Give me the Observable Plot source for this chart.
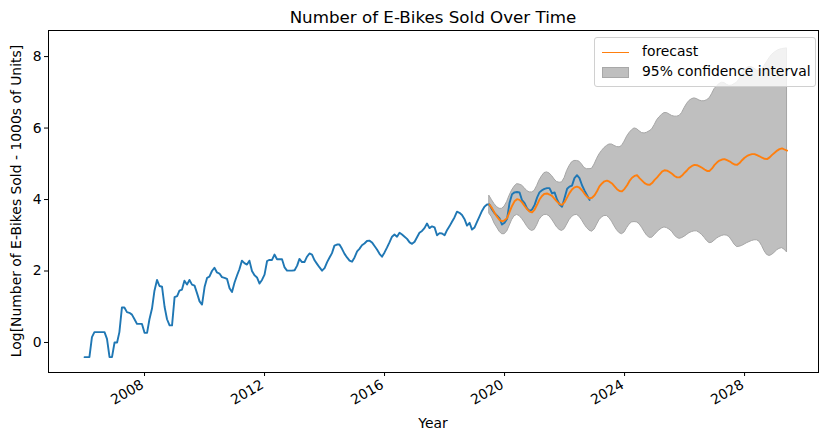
<!DOCTYPE html>
<html><head><meta charset="utf-8">
<script src="https://cdn.jsdelivr.net/npm/d3@7"></script>
<script src="https://cdn.jsdelivr.net/npm/@observablehq/plot@0.6"></script>
<style>
body{margin:0;background:#fff;font-family:"DejaVu Sans",sans-serif;color:#000}
#wrap{position:relative;width:833px;height:441px;overflow:hidden}
#wrap svg{position:absolute;left:0;top:0}
#title{position:absolute;left:48px;width:770px;top:7px;text-align:center;font-size:16.7px;line-height:20px}
#xlabel{position:absolute;left:48px;width:770px;top:414px;text-align:center;font-size:13.9px;line-height:18px}
#ylabel{position:absolute;left:16px;top:201px;font-size:13.9px;line-height:16px;white-space:nowrap;transform:translate(-50%,-50%) rotate(-90deg)}
#legend{position:absolute;left:594px;top:37px;width:222px;height:50px;box-sizing:border-box;border:1px solid #d0d0d0;border-radius:3px;background:rgba(255,255,255,0.8);font-size:13.9px}
.row{position:absolute;left:7px;height:18px;line-height:18px;white-space:nowrap}
.sw{display:inline-block;width:27px;vertical-align:middle;margin-right:13px}
</style></head><body>
<div id="wrap"></div>
<script>
// Observed series: log of monthly E-bike sales, starting January 2006
const obsStart = [2006, 0];
const obsValues = [
-0.41,-0.41,-0.41,0.15,0.29,0.29,0.29,0.29,0.29,0.10,-0.41,-0.41,
0.00,0.00,0.29,0.98,0.98,0.85,0.83,0.78,0.65,0.52,0.52,0.52,
0.27,0.27,0.65,0.95,1.45,1.75,1.58,1.56,1.00,0.65,0.48,0.48,
1.27,1.30,1.45,1.48,1.73,1.62,1.75,1.62,1.59,1.38,1.15,1.06,
1.55,1.81,1.84,2.00,2.09,1.96,1.93,1.83,1.81,1.78,1.52,1.41,
1.68,1.88,2.05,2.29,2.22,2.18,2.29,2.00,1.88,1.82,1.65,1.75,
1.90,2.28,2.31,2.31,2.46,2.33,2.33,2.33,2.10,2.01,2.01,2.01,
2.02,2.15,2.34,2.25,2.25,2.40,2.49,2.46,2.30,2.20,2.10,2.01,
2.08,2.25,2.37,2.50,2.71,2.74,2.74,2.62,2.48,2.38,2.29,2.26,
2.38,2.55,2.62,2.72,2.77,2.84,2.85,2.80,2.70,2.60,2.48,2.40,
2.52,2.66,2.80,2.96,3.02,2.96,3.07,3.02,2.96,2.90,2.80,2.76,
2.82,2.95,3.07,3.12,3.20,3.33,3.20,3.25,3.22,3.00,3.06,3.05,
3.00,3.15,3.25,3.38,3.50,3.66,3.63,3.57,3.45,3.27,3.35,3.16,
3.22,3.38,3.52,3.68,3.80,3.86,3.86,3.72,3.62,3.55,3.47,3.30,
3.35,3.46,3.90,4.15,4.20,4.21,4.20,3.98,3.90,3.75,3.68,3.72,
3.85,4.06,4.20,4.26,4.30,4.32,4.32,4.17,4.20,4.00,3.86,3.80,
4.05,4.30,4.36,4.39,4.60,4.68,4.60,4.40,4.25,4.12,3.99
];
// Forecast, starting July 2019
const fcStart = [2019, 6];
const fcMean = [
3.86,3.76,3.63,3.52,3.43,3.39,
3.42,3.48,3.65,3.82,3.95,4.01,3.99,3.92,3.82,3.73,3.66,3.64,
3.72,3.86,4.00,4.10,4.16,4.17,4.14,4.10,4.02,3.94,3.87,3.85,
3.93,4.06,4.18,4.28,4.34,4.36,4.33,4.26,4.16,4.08,4.03,4.05,
4.12,4.24,4.37,4.45,4.51,4.53,4.50,4.45,4.37,4.29,4.24,4.23,
4.30,4.40,4.52,4.61,4.66,4.68,4.60,4.53,4.46,4.42,4.41,4.46,
4.55,4.62,4.70,4.78,4.82,4.81,4.77,4.72,4.66,4.62,4.62,4.67,
4.75,4.82,4.89,4.94,4.97,4.96,4.93,4.89,4.84,4.80,4.80,4.87,
4.97,5.04,5.09,5.12,5.13,5.10,5.07,5.02,4.98,4.97,5.02,5.10,
5.17,5.22,5.25,5.27,5.27,5.24,5.21,5.17,5.14,5.13,5.18,5.25,
5.31,5.37,5.41,5.43,5.40,5.37
];
const fcUpper = [
4.10,3.98,3.87,3.79,3.74,3.74,
3.80,3.93,4.10,4.25,4.36,4.43,4.42,4.39,4.32,4.24,4.20,4.20,
4.24,4.38,4.53,4.65,4.74,4.76,4.73,4.66,4.56,4.49,4.47,4.48,
4.60,4.80,4.93,5.04,5.08,5.08,5.06,4.98,4.88,4.85,4.85,4.86,
4.98,5.14,5.26,5.36,5.44,5.50,5.54,5.54,5.50,5.47,5.46,5.50,
5.62,5.76,5.86,5.94,5.99,5.97,5.91,5.86,5.85,5.87,5.91,5.96,
6.08,6.22,6.30,6.37,6.42,6.42,6.38,6.34,6.32,6.32,6.34,6.42,
6.56,6.68,6.76,6.81,6.83,6.81,6.77,6.75,6.75,6.78,6.83,6.95,
7.09,7.17,7.23,7.27,7.26,7.21,7.18,7.19,7.23,7.27,7.36,7.52,
7.62,7.68,7.71,7.70,7.66,7.61,7.60,7.64,7.74,7.85,7.96,8.05,
8.11,8.16,8.19,8.21,8.22,8.23
];
const fcLower = [
3.60,3.50,3.33,3.22,3.10,3.03,
3.03,3.10,3.25,3.42,3.53,3.57,3.54,3.46,3.36,3.25,3.16,3.12,
3.15,3.28,3.43,3.52,3.57,3.57,3.53,3.44,3.33,3.22,3.15,3.12,
3.17,3.30,3.42,3.51,3.56,3.57,3.52,3.42,3.30,3.20,3.13,3.10,
3.16,3.30,3.42,3.50,3.54,3.54,3.48,3.38,3.25,3.14,3.06,3.03,
3.08,3.20,3.30,3.36,3.37,3.36,3.31,3.21,3.09,2.99,2.93,2.93,
3.00,3.08,3.14,3.19,3.22,3.20,3.16,3.10,3.00,2.93,2.90,2.92,
2.96,3.01,3.06,3.09,3.11,3.11,3.07,3.01,2.93,2.84,2.78,2.79,
2.85,2.91,2.95,2.98,3.00,2.99,2.95,2.85,2.74,2.67,2.68,2.70,
2.74,2.78,2.81,2.84,2.86,2.86,2.82,2.70,2.55,2.45,2.42,2.45,
2.51,2.58,2.62,2.64,2.60,2.52
];
const tickYears = [2008, 2012, 2016, 2020, 2024, 2028];
const yTicks = [0, 2, 4, 6, 8];
const titleText = "Number of E-Bikes Sold Over Time";
const xLabelText = "Year";
const yLabelText = "Log[Number of E-Bikes Sold - 1000s of Units]";
const legendLabels = ["forecast", "95% confidence interval"];

const month = (start, i) => new Date(Date.UTC(start[0], start[1] + i, 1));
const obs = obsValues.map((v, i) => ({date: month(obsStart, i), value: v}));
const fc = fcMean.map((v, i) => ({date: month(fcStart, i), mean: v, lower: fcLower[i], upper: fcUpper[i]}));
const xTickDates = tickYears.map(y => new Date(Date.UTC(y, 0, 1)));

const chart = Plot.plot({
  width: 833, height: 441,
  marginLeft: 48, marginRight: 15, marginTop: 30, marginBottom: 69,
  style: {fontFamily: "DejaVu Sans", fontSize: "13.9px", background: "white", color: "black", overflow: "visible"},
  x: {type: "utc", domain: [new Date(Date.UTC(2004, 9, 19)), new Date(Date.UTC(2030, 5, 19))]},
  y: {domain: [-0.84, 8.73]},
  marks: [
    Plot.areaY(fc, {x: "date", y1: "lower", y2: "upper", fill: "#bfbfbf", stroke: "#a6a6a6", strokeWidth: 1}),
    Plot.lineY(obs, {x: "date", y: "value", stroke: "#1f77b4", strokeWidth: 1.9}),
    Plot.lineY(fc, {x: "date", y: "mean", stroke: "#ff7f0e", strokeWidth: 1.9}),
    Plot.frame({stroke: "black", strokeWidth: 1}),
    Plot.axisX({ticks: xTickDates, tickFormat: () => "", tickSize: 4, label: null}),
    Plot.axisX({ticks: xTickDates, tickFormat: d3.utcFormat("%Y"), tickRotate: -30, tickSize: 0, tickPadding: 11, dx: -2, fontSize: 13.9, label: null}),
    Plot.axisY({ticks: yTicks, tickSize: 4, tickPadding: 3, fontSize: 13.9, label: null})
  ]
});
const wrap = document.getElementById("wrap");
wrap.appendChild(chart);

const t = document.createElement("div"); t.id = "title"; t.textContent = titleText; wrap.appendChild(t);
const xl = document.createElement("div"); xl.id = "xlabel"; xl.textContent = xLabelText; wrap.appendChild(xl);
const yl = document.createElement("div"); yl.id = "ylabel"; yl.textContent = yLabelText; wrap.appendChild(yl);

const lg = document.createElement("div"); lg.id = "legend";
lg.innerHTML = `<div class="row" style="top:4px"><span class="sw" style="height:0;border-top:1.9px solid #ff7f0e"></span>${legendLabels[0]}</div>
<div class="row" style="top:24px"><span class="sw" style="height:11px;background:#bfbfbf;border:1px solid #a8a8a8;box-sizing:border-box"></span>${legendLabels[1]}</div>`;
wrap.appendChild(lg);
</script>
</body></html>
